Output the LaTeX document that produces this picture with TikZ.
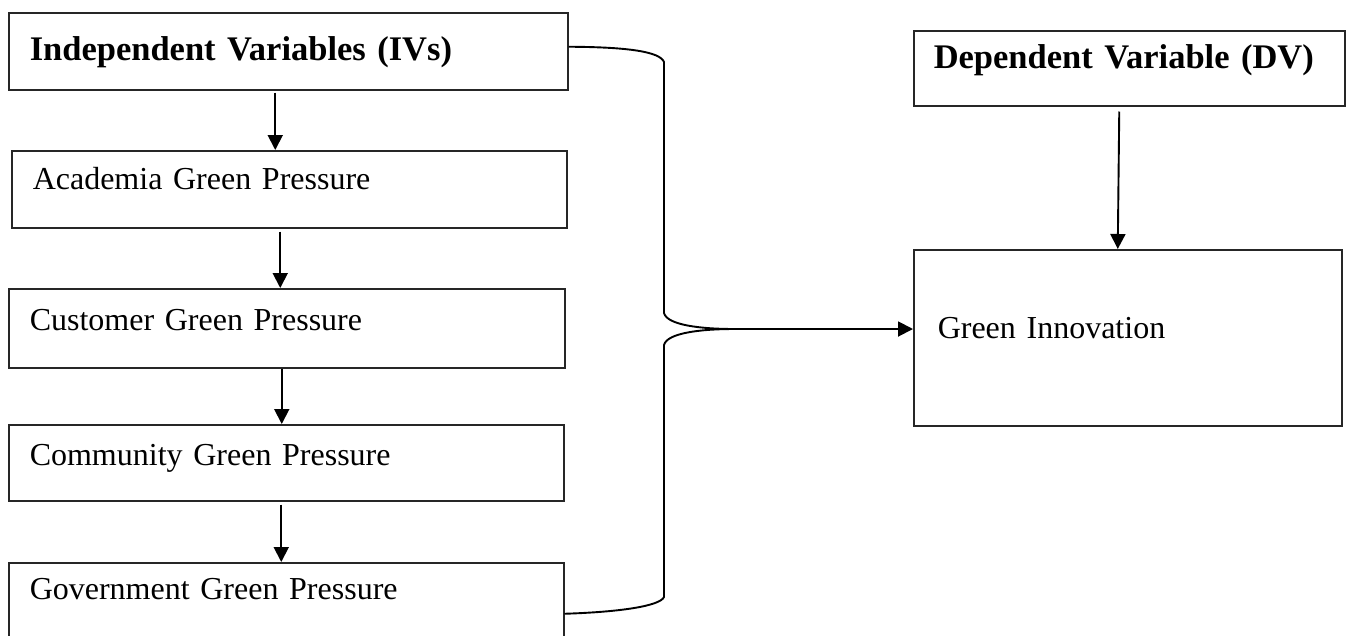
\documentclass[tikz,border=0pt]{standalone}
\usepackage{fontspec}
\setmainfont{Liberation Serif}
\usetikzlibrary{arrows.meta, positioning, calc}

\begin{document}
\begin{tikzpicture}[
        x=1pt, y=-1pt,
        caja/.style={
            rectangle,
            draw=black!85,
            line width=1.5pt,
            anchor=north west,
            inner xsep=21pt,
            inner ysep=0pt,
            align=left,
            font=\fontsize{32}{38}\selectfont
        },
        titulo/.style={
            caja,
            font=\fontsize{34.5}{40}\selectfont\bfseries
        },
        flecha/.style={-{Triangle[length=15pt, width=15pt]}, line width=1.9pt, draw=black},
        enlace/.style={line width=1.9pt, draw=black}
    ]
        \useasboundingbox (0,0) rectangle (1348,635);

        % columna izquierda
        \node[titulo, text width=517pt, text height=48pt, text depth=29pt] (iv) at (8,12)
            {Independent Variables (IVs)};
        \node[caja, text width=513pt, text height=39pt, text depth=38pt] (academia) at (11,150)
            {Academia Green Pressure};
        \node[caja, text width=514pt, text height=42pt, text depth=37pt] (cliente) at (8,288)
            {Customer Green Pressure};
        \node[caja, text width=513pt, text height=41pt, text depth=35pt] (comunidad) at (8,424)
            {Community Green Pressure};
        \node[caja, text width=513pt, text height=37pt, text depth=43pt] (gobierno) at (8,562)
            {Government Green Pressure};

        % columna derecha
        \node[titulo, inner xsep=20pt, text width=391pt, text height=38pt, text depth=37pt] (dv) at (913,30)
            {Dependent Variable (DV)};
        \node[caja, inner xsep=24pt, text width=380pt, text height=89pt, text depth=87pt] (innovacion) at (913,249)
            {Green Innovation};

        \draw[flecha] ([xshift=-13pt, yshift=-2pt]iv.south) -- ([xshift=-13pt]iv.south |- academia.north);
        \draw[flecha] ([xshift=-9pt, yshift=-3pt]academia.south) -- ([xshift=-9pt]academia.south |- cliente.north);
        \draw[flecha] ([xshift=-5pt]cliente.south) -- ([xshift=-5pt]cliente.south |- comunidad.north);
        \draw[flecha] ([xshift=-5pt, yshift=-3pt]comunidad.south) -- ([xshift=-5pt]comunidad.south |- gobierno.north);
        \draw[flecha] ([xshift=-10pt, yshift=-5pt]dv.south) -- ([xshift=-10pt]innovacion.north);

        % llave que une las variables
        \coordinate (union) at (735,329);
        \draw[enlace] ([yshift=4.5pt]iv.east) .. controls (630,47) and (660,52) .. (664,62)
            -- (664,313) .. controls (667,325) and (700,329) .. (union);
        \draw[enlace] ([yshift=-11pt]gobierno.east) .. controls (620,612) and (660,606) .. (664,597)
            -- (664,345) .. controls (667,333) and (700,329) .. (union);
        \draw[flecha] (union) -- (union -| innovacion.west);
    \end{tikzpicture}
\end{document}
